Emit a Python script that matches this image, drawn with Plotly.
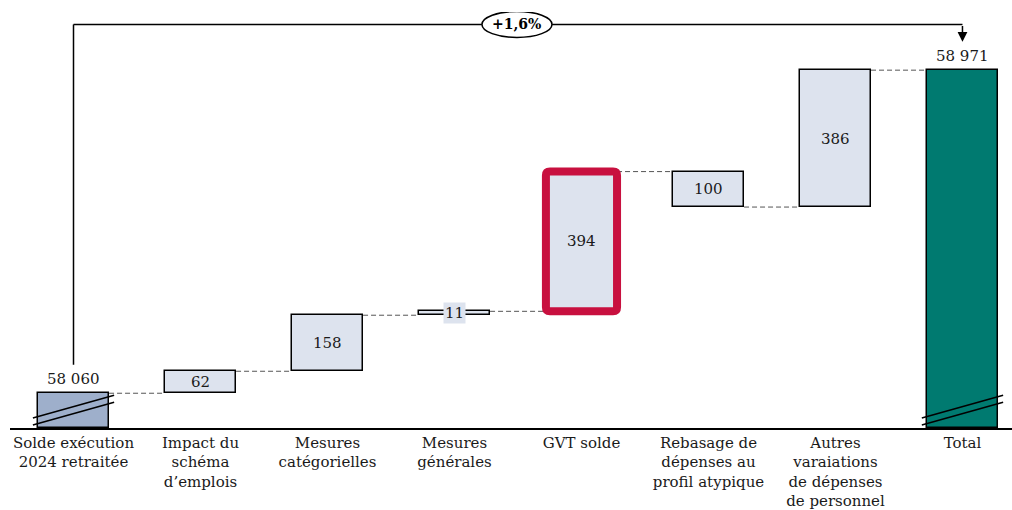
import plotly.graph_objects as go

categories = ["Solde exécution<br>2024 retraitée", "Impact du<br>schéma<br>d’emplois",
              "Mesures<br>catégorielles", "Mesures<br>générales", "GVT solde",
              "Rebasage de<br>dépenses au<br>profil atypique",
              "Autres<br>varaiations<br>de dépenses<br>de personnel", "Total"]
start_value = 58060
deltas = [62, 158, 11, 394, -100, 386]
total_value = 58971
delta_labels = ["62", "158", "11", "394", "100", "386"]
start_label = "58 060"
total_label = "58 971"
growth_label = "+1,6%"

AXIS_MIN = 57962
AXIS_MAX = 59135
BRACKET_Y = 59100

FONT = "DejaVu Serif"
C_START = "#9EAFCB"
C_STEP = "#DDE3EE"
C_TOTAL = "#007A70"
C_RED = "#C8103F"
PLOT_H = 420
PLOT_W = 1002
X_RANGE = [-0.5, 7.39]

xs = list(range(len(categories)))
bases, heights = [AXIS_MIN], [start_value - AXIS_MIN]
level = start_value
levels = [start_value]
for d in deltas:
    bases.append(level)
    heights.append(d)
    level += d
    levels.append(level)
bases.append(AXIS_MIN)
heights.append(total_value - AXIS_MIN)

HIGHLIGHT = 4
fills = [C_START] + [C_STEP] * len(deltas) + [C_TOTAL]
line_colors = ["black"] * len(categories)
line_widths = [1.5] * len(categories)
line_widths[HIGHLIGHT] = 0

W = 0.56
fig = go.Figure()
fig.add_trace(go.Bar(x=xs, y=heights, base=bases, width=W,
                     marker=dict(color=fills, line=dict(color=line_colors, width=line_widths)),
                     hoverinfo="skip", showlegend=False))

for i in range(len(categories) - 1):
    lv = levels[i]
    fig.add_trace(go.Scatter(x=[i + W / 2, i + 1 - W / 2], y=[lv, lv], mode="lines",
                             line=dict(color="#555555", width=1, dash="5px,3px"),
                             hoverinfo="skip", showlegend=False))

annotations = []
for j, d in enumerate(deltas):
    i = j + 1
    mid = bases[i] + d / 2
    a = dict(x=i, y=mid, text=delta_labels[j], showarrow=False,
             font=dict(family=FONT, size=15, color="#1a1a1a"))
    if abs(d) < 30:
        a.update(bgcolor=C_STEP, borderpad=1)
    annotations.append(a)

annotations.append(dict(x=0, y=start_value, text=start_label, showarrow=False, yanchor="bottom",
                        yshift=3, font=dict(family=FONT, size=15, color="#1a1a1a")))
annotations.append(dict(x=7, y=total_value, text=total_label, showarrow=False, yanchor="bottom",
                        yshift=3, font=dict(family=FONT, size=15, color="#1a1a1a")))

annotations.append(dict(x=7, y=total_value + 80, ax=7, ay=BRACKET_Y, axref="x", ayref="y",
                        xref="x", yref="y", showarrow=True, arrowhead=2, arrowsize=1.3,
                        arrowwidth=1.5, arrowcolor="black", text=""))
mid_x = 3.492
annotations.append(dict(x=mid_x, y=BRACKET_Y, text="<b>" + growth_label + "</b>", showarrow=False,
                        font=dict(family=FONT, size=14, color="black")))

shapes = []
px_x = (X_RANGE[1] - X_RANGE[0]) / PLOT_W
px_y = (AXIS_MAX - AXIS_MIN) / PLOT_H
hb, hh = bases[HIGHLIGHT], heights[HIGHLIGHT]
x0, x1 = HIGHLIGHT - W / 2, HIGHLIGHT + W / 2
y0, y1 = hb, hb + hh
rx, ry = 4 * px_x, 4 * px_y
path = (f"M {x0 + rx},{y0} L {x1 - rx},{y0} Q {x1},{y0} {x1},{y0 + ry} "
        f"L {x1},{y1 - ry} Q {x1},{y1} {x1 - rx},{y1} L {x0 + rx},{y1} "
        f"Q {x0},{y1} {x0},{y1 - ry} L {x0},{y0 + ry} Q {x0},{y0} {x0 + rx},{y0} Z")
shapes.append(dict(type="path", xref="x", yref="y", path=path,
                   line=dict(color=C_RED, width=8)))

shapes.append(dict(type="line", xref="x", yref="y", x0=0, x1=0, y0=start_value + 80, y1=BRACKET_Y,
                   line=dict(color="black", width=1.5)))
shapes.append(dict(type="line", xref="x", yref="y", x0=0, x1=7, y0=BRACKET_Y, y1=BRACKET_Y,
                   line=dict(color="black", width=1.5)))
shapes.append(dict(type="circle", xref="x", yref="y", xsizemode="pixel", ysizemode="pixel",
                   xanchor=mid_x, yanchor=BRACKET_Y, x0=-35, x1=35, y0=-13, y1=13,
                   fillcolor="white", line=dict(color="black", width=1.5)))

for i in (0, 7):
    for lo, hi in ((10, 33), (3, 26)):
        shapes.append(dict(type="line", xref="x", yref="paper",
                           x0=i - 0.32, x1=i + 0.32, y0=lo / PLOT_H, y1=hi / PLOT_H,
                           line=dict(color="black", width=1.5)))

fig.update_layout(
    width=1012, height=510,
    margin=dict(l=10, r=0, t=12, b=78),
    paper_bgcolor="white", plot_bgcolor="white",
    bargap=0,
    annotations=annotations, shapes=shapes,
    font=dict(family=FONT, size=15, color="#1a1a1a"),
    xaxis=dict(range=X_RANGE, tickmode="array", tickvals=xs, ticktext=categories,
               showline=True, linecolor="black", linewidth=1.5, ticks="", showgrid=False,
               zeroline=False, tickfont=dict(family=FONT, size=15, color="#1a1a1a"),
               fixedrange=True),
    yaxis=dict(range=[AXIS_MIN, AXIS_MAX], visible=False, showgrid=False, zeroline=False,
               fixedrange=True),
)
fig.write_html("out.html", config=dict(displayModeBar=False),
               post_script="document.body.style.margin='0';document.body.style.overflow='hidden';")
